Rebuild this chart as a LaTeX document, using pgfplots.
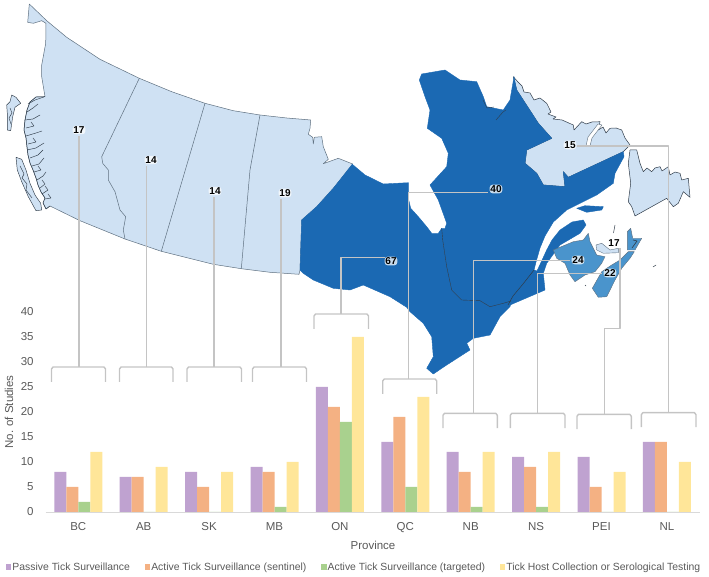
\documentclass[border=0pt]{standalone}
\usepackage{pgfplots}
\pgfplotsset{compat=1.18}
\usepackage{fontspec}
\setmainfont{Liberation Sans}
\definecolor{cLight}{HTML}{CFE1F3}
\definecolor{cDark}{HTML}{1B69B3}
\definecolor{cMid}{HTML}{4A94CC}
\definecolor{cEdge}{HTML}{5F7080}
\definecolor{cCoast}{HTML}{2F3B48}
\definecolor{cLead}{HTML}{C4C4C4}
\definecolor{cTxt}{HTML}{595959}
\definecolor{cP}{HTML}{BFA2D0}
\definecolor{cO}{HTML}{F4B183}
\definecolor{cG}{HTML}{A9D18E}
\definecolor{cY}{HTML}{FFE699}
\begin{document}
\begin{tikzpicture}[x=1pt,y=1pt]
\useasboundingbox (0,0) rectangle (709,577);
% ---------- bar chart ----------
\begin{axis}[
  at={(45.6pt,65pt)}, anchor=south west,
  scale only axis, width=654pt, height=200pt,
  xmin=-0.5, xmax=9.5, ymin=0, ymax=40,
  ybar=0pt, bar width=12pt,
  legend image code/.code={\fill[#1] (0pt,-2.7pt) rectangle (5.5pt,2.7pt);},
  axis x line*=bottom, axis y line*=left,
  x axis line style={draw=black!15,line width=0.8pt,-},
  y axis line style={draw=none,-},
  major tick length=0pt,
  xtick={0,...,9}, xticklabels={BC,AB,SK,MB,ON,QC,NB,NS,PEI,NL},
  ytick={0,5,...,40},
  /pgf/number format/assume math mode=true,
  tick label style={font=\fontsize{11.5}{13}\selectfont,text=cTxt},
  xticklabel style={yshift=-7pt},
  yticklabel style={xshift=-8.5pt},
  xlabel={Province}, ylabel={No. of Studies},
  label style={font=\fontsize{11.5}{13}\selectfont,text=cTxt},
  xlabel style={at={(axis description cs:0.5006,-0.165)},anchor=center},
  ylabel style={at={(axis description cs:-0.056,0.5)},anchor=center},
  legend columns=4,
  legend cell align=left,
  legend style={at={(axis description cs:-0.0606,-0.275)},anchor=west,draw=none,fill=none,
    inner sep=0pt,outer sep=0pt,font=\fontsize{10.4}{12}\selectfont,text=cTxt,
    /tikz/every even column/.append style={column sep=12.8pt},
    /tikz/every odd column/.append style={column sep=-1pt}},
]
\addplot[fill=cP,draw=none] coordinates {(0,8)(1,7)(2,8)(3,9)(4,25)(5,14)(6,12)(7,11)(8,11)(9,14)};
\addplot[fill=cO,draw=none] coordinates {(0,5)(1,7)(2,5)(3,8)(4,21)(5,19)(6,8)(7,9)(8,5)(9,14)};
\addplot[fill=cG,draw=none] coordinates {(0,2)(1,0)(2,0)(3,1)(4,18)(5,5)(6,1)(7,1)(8,0)(9,0)};
\addplot[fill=cY,draw=none] coordinates {(0,12)(1,9)(2,8)(3,10)(4,35)(5,23)(6,12)(7,12)(8,8)(9,10)};
\legend{Passive Tick Surveillance,Active Tick Surveillance (sentinel),Active Tick Surveillance (targeted),Tick Host Collection or Serological Testing}
\end{axis}
% ---------- map and leaders (pixel coordinates) ----------
\begin{axis}[
  at={(0pt,0pt)}, anchor=south west,
  scale only axis, width=709pt, height=577pt,
  xmin=0, xmax=709, ymin=0, ymax=577, y dir=reverse,
  hide axis, clip=false,
  every axis plot post/.append style={mark=none,line join=round},
]
\pgfplotsset{fjord/.style={draw=cCoast,line width=0.45pt}}
% west provinces
\addplot[fill=cLight,draw=cEdge,line width=0.5pt] coordinates {(29.3,4)(46.7,20.7)(66.7,37.3)(100,59.3)(139.3,78.3)(171.7,91.7)(205,103.3)(233.3,110.7)(260,115)(286.7,118)(310.7,120)(310,128.3)(308.3,134.3)(312.7,137.3)(313.3,144)(314.3,137.3)(321.7,136.7)(323.3,146.7)(328.3,159.3)(323.3,163.7)(338.3,158.3)(352.7,164)(333.3,188.3)(316.7,206.7)(301.7,220)(300,270)(299,274.3)(270,272.3)(241.3,268.7)(213.3,264.3)(161.3,251.3)(125,239)(80,220.7)(50,206)(46,209)(43,203)(45,198)(41,192)(38,185)(36,178)(33,170)(30,163)(28,155)(27,147)(26,138)(24,130)(25,120)(27,110)(30,102)(36,97)(45,96.7)(41.7,76.7)(41.7,65)(45.7,43.3)(46,23.3)(41.7,20.7)(33.3,23.3)(27.7,22.3)} -- cycle;
\addplot[fjord] coordinates {(50,206)(46,209)(43,203)(45,198)(41,192)(38,185)(36,178)(33,170)(30,163)(28,155)(27,147)(26,138)(24,130)(25,120)(27,110)(30,102)(36,97)(45,96.7)};
\addplot[fjord] coordinates {(28,104)(35,100)(44,97)};
\addplot[fjord] coordinates {(27,112)(33,108)(38,104)};
\addplot[fjord] coordinates {(25,120)(33,119)(40,115)};
\addplot[fjord] coordinates {(26,128)(34,126)(31,122)};
\addplot[fjord] coordinates {(26,136)(36,133)(42,131)};
\addplot[fjord] coordinates {(28,144)(36,142)(33,138)};
\addplot[fjord] coordinates {(27,150)(36,148)(44,143)};
\addplot[fjord] coordinates {(30,158)(38,155)(43,150)};
\addplot[fjord] coordinates {(32,166)(39,164)(44,158)};
\addplot[fjord] coordinates {(34,172)(41,170)(38,166)};
\addplot[fjord] coordinates {(37,180)(43,176)(46,172)};
\addplot[fjord] coordinates {(40,188)(45,184)(42,180)};
\addplot[fjord] coordinates {(42,194)(48,190)(45,186)};
\addplot[fjord] coordinates {(45,199)(51,198)(48,194)};
\addplot[fill=cLight,draw=cCoast,line width=0.45pt] coordinates {(16,157.3)(21.7,159.3)(26,170)(30,183.3)(35,195)(40.7,203.3)(41.7,210)(36,210.7)(28.3,196.7)(21.7,181.7)(17.3,170)} -- cycle;
\addplot[fjord] coordinates {(20,166)(24,174)(22,178)(27,184)(26,190)(32,198)};
\addplot[fill=cLight,draw=cCoast,line width=0.45pt] coordinates {(11.7,95)(16,97.3)(20.7,103.3)(15,107.3)(12.7,116.7)(10.7,130.7)(7.3,130)(7.3,113.3)(6.7,105)(10,101.7)} -- cycle;
\addplot[fjord] coordinates {(10,108)(12,113)(9,118)(11,124)};
\addplot[draw=cEdge,line width=0.5pt] coordinates {(139.3,78.3)(101.7,156.7)(102.7,163.3)(108.3,170)(108.3,180)(115,191.7)(120,210)(125.7,216.7)(123.3,230)(125,239)};
\addplot[draw=cEdge,line width=0.5pt] coordinates {(205,103.3)(161.3,251.3)};
\addplot[draw=cEdge,line width=0.5pt] coordinates {(260,115)(250,170)(241.3,268.7)};
% Labrador
\addplot[fill=cLight,draw=cCoast,line width=0.5pt] coordinates {(513.3,76.7)(518,82)(522,86)(524,92)(530,93)(534,100)(540,98)(546.7,103.3)(551,112)(548,114)(556,117)(553,119)(562,120)(573.3,125)(574,130)(581.7,121.7)(586,124)(592,122)(600,121.7)(598.3,130)(603,127)(606,133)(610,128.3)(616,128)(621.7,130)(625,138)(630,145)(623.3,151.7)(568.3,177.3)(563.3,171.7)(565,186.7)(543.3,185)(536.7,173.3)(525,163.3)(526.7,150)(551.7,138.3)(538.3,123.3)(516.7,90)} -- cycle;
\addplot[fill=white,draw=cEdge,line width=0.4pt] coordinates {(598,124)(602,125)(592,138)(590,146)(586,146)(588,137)} -- cycle;
% Ontario
\addplot[fill=cDark,draw=cDark,line width=0.4pt] coordinates {(352.3,164.3)(365,175)(383.3,184)(408.3,182.7)(408.3,198.3)(410.7,208.3)(418.3,216.7)(426.7,226.7)(431.7,233.3)(438.3,233.3)(441.7,228.3)(442.7,240)(446.7,266.7)(451.7,290)(461.7,300)(480,300.7)(490,306.7)(503.3,303.3)(511.7,300.7)(510,306.7)(500,316.7)(490,335)(473.3,338.3)(466.7,343.3)(470,350)(446.7,365)(433.3,374)(426.7,368.3)(433.3,356.7)(431.7,336.7)(423.3,323.3)(410,311.7)(406.7,307.3)(390,296.7)(363.3,285)(350,290)(333.3,288.3)(313.3,280)(303.3,273.3)(300,270)(301.7,220)(316.7,206.7)(333.3,188.3)} -- cycle;
% Quebec
\addplot[fill=cDark,draw=cDark,line width=0.4pt] coordinates {(430,185)(446.7,166.7)(448.3,153.3)(441.7,138.3)(427.3,128.3)(430,110)(425,96.7)(419.3,80)(421.7,74)(445,70)(460,80)(476.7,81.7)(483.3,96.7)(486.7,106.7)(503.3,110)(510,100)(514,76.7)(516.7,90)(538.3,123.3)(551.7,138.3)(526.7,150)(525,163.3)(536.7,173.3)(543.3,185)(565,186.7)(563.3,171.7)(568.3,177.3)(623.3,151.7)(624,156.7)(615,173.3)(613.3,183.3)(596.7,195)(566.7,210)(553.3,222)(545,236)(540,248)(536,262)(534,270)(537,271)(546.7,250)(552,240)(560,230)(572,222)(583.3,220)(586,225)(580,233.3)(560,245)(546.7,263.3)(543.3,273.3)(545,290)(510,305)(503.3,303.3)(490,306.7)(480,300.7)(461.7,300)(451.7,290)(446.7,266.7)(442.7,240)(441.7,228.3)(445,228.3)(446.7,223.3)(438.3,200)} -- cycle;
\addplot[draw=cCoast,line width=0.4pt] coordinates {(441.7,228.3)(442.7,240)(446.7,266.7)(451.7,290)(461.7,300)(480,300.7)(490,306.7)(503.3,303.3)(511,301)};
\addplot[draw=cCoast,line width=0.5pt] coordinates {(534,270)(523,284)(513,296)(508,305)};
\addplot[draw=cCoast,line width=0.4pt] coordinates {(483,100)(487,108)(494,107)};
\addplot[draw=cCoast,line width=0.4pt] coordinates {(496,120)(503,112)(506,110)};
\addplot[fill=cDark,draw=cDark,line width=0.4pt] coordinates {(576.7,208.3)(585,205.7)(603.3,206.7)(601.7,210)(586.7,212.3)} -- cycle;
% Newfoundland
\addplot[fill=cLight,draw=cCoast,line width=0.5pt] coordinates {(630,150)(636.7,150)(640,163.3)(643.3,171.7)(647,168)(651.7,171.7)(655,168)(660,166.7)(662,171)(668.3,166.7)(670,175)(675,172)(680,173.3)(681.7,180)(688.3,178.3)(690,197.3)(683.3,191.7)(678.3,203.3)(673.3,206.7)(666.7,198.3)(635,216)(631.7,206.7)(628.3,201.7)(630.7,183.3)(628.3,163.3)} -- cycle;
% Maritimes
\addplot[fill=cMid,draw=cEdge,line width=0.4pt] coordinates {(553.3,250)(573.3,241.7)(583.3,240)(588.3,233.3)(590,241.7)(596.7,255)(605,256.7)(601.7,263.3)(595,271.7)(585,275)(575,281.7)(570,275)(565,263.3)(556.7,258.3)} -- cycle;
\addplot[fill=cMid,draw=cEdge,line width=0.4pt] coordinates {(592.3,288.3)(601.7,271.7)(611.7,265)(620,260)(628.3,251.7)(634.3,251.7)(630,258.3)(621.7,268.3)(615,280)(606.7,296.7)(598.3,297.3)} -- cycle;
\addplot[fill=cMid,draw=cEdge,line width=0.4pt] coordinates {(627.3,231.7)(630.7,228.3)(632.7,238.3)(641.7,238.3)(635,250)(627.3,250)} -- cycle;
\addplot[draw=cCoast,line width=0.6pt] coordinates {(633,240)(637,241)(632,248)};
\addplot[fill=cLight,draw=cEdge,line width=0.4pt] coordinates {(596,245)(601.7,243.3)(610,250)(618.3,248.3)(618.3,252.7)(603.3,253.3)(596.7,250)} -- cycle;
\addplot[draw=cCoast,line width=0.5pt] coordinates {(615,225)(613.5,233)};
\addplot[draw=cCoast,line width=0.5pt] coordinates {(653,267)(656,265)};
\addplot[draw=cCoast,line width=0.5pt] coordinates {(585,285)(586,286)};
% leaders and brackets
\pgfplotsset{leader/.style={draw=cLead,line width=1.4pt,line join=round}}
\addplot[leader] coordinates {(79,136)(79,367)};
\addplot[leader] coordinates {(51.5,382)(51.5,369)(53,367)(104,367)(105.5,369)(105.5,382)};
\addplot[leader] coordinates {(146.3,166)(146.3,367)};
\addplot[leader] coordinates {(119.5,382)(119.5,369)(121,367)(171.5,367)(173,369)(173,382)};
\addplot[leader] coordinates {(214,197)(214,367)};
\addplot[leader] coordinates {(187,382)(187,369)(188.5,367)(240,367)(241.5,369)(241.5,382)};
\addplot[leader] coordinates {(281,199)(281,367)};
\addplot[leader] coordinates {(252.5,382)(252.5,369)(254,367)(305,367)(306.5,369)(306.5,382)};
\addplot[leader] coordinates {(385,257.3)(341,257.3)(341,314)};
\addplot[leader] coordinates {(314,329)(314,316)(315.5,314)(367,314)(368.5,316)(368.5,329)};
\addplot[leader] coordinates {(488,192.3)(408.3,192.3)(408.3,379)};
\addplot[leader] coordinates {(382.7,394)(382.7,381)(384.2,379)(435.2,379)(436.7,381)(436.7,394)};
\addplot[leader] coordinates {(570,260.7)(473.7,260.7)(473.7,413.3)};
\addplot[leader] coordinates {(443,428)(443,415.3)(444.5,413.3)(495.8,413.3)(497.3,415.3)(497.3,428)};
\addplot[leader] coordinates {(602,273.3)(537.7,273.3)(537.7,413.3)};
\addplot[leader] coordinates {(510.3,428)(510.3,415.3)(511.8,413.3)(563.5,413.3)(565,415.3)(565,428)};
\addplot[leader] coordinates {(620,248.3)(620,328.3)(604.3,328.3)(604.3,414.3)};
\addplot[leader] coordinates {(577,429)(577,416.3)(578.5,414.3)(629.8,414.3)(631.3,416.3)(631.3,429)};
\addplot[leader] coordinates {(576.7,146)(668.3,146)(668.3,412.7)};
\addplot[leader] coordinates {(641.3,427)(641.3,414.7)(642.8,412.7)(694.5,412.7)(696,414.7)(696,427)};
% labels
\tikzset{num/.style={font=\fontsize{10}{12}\selectfont\bfseries,text=black,fill=white,fill opacity=0.75,text opacity=1,rounded corners=3pt,inner sep=0.8pt}}
\node[num] at (axis cs:79,130) {17};
\node[num] at (axis cs:151,160) {14};
\node[num] at (axis cs:215,191) {14};
\node[num] at (axis cs:285,193) {19};
\node[num] at (axis cs:391,261) {67};
\node[num] at (axis cs:496,189) {40};
\node[num] at (axis cs:570,145) {15};
\node[num] at (axis cs:578,260) {24};
\node[num] at (axis cs:614,243) {17};
\node[num] at (axis cs:610,273) {22};
\end{axis}
\end{tikzpicture}
\end{document}
